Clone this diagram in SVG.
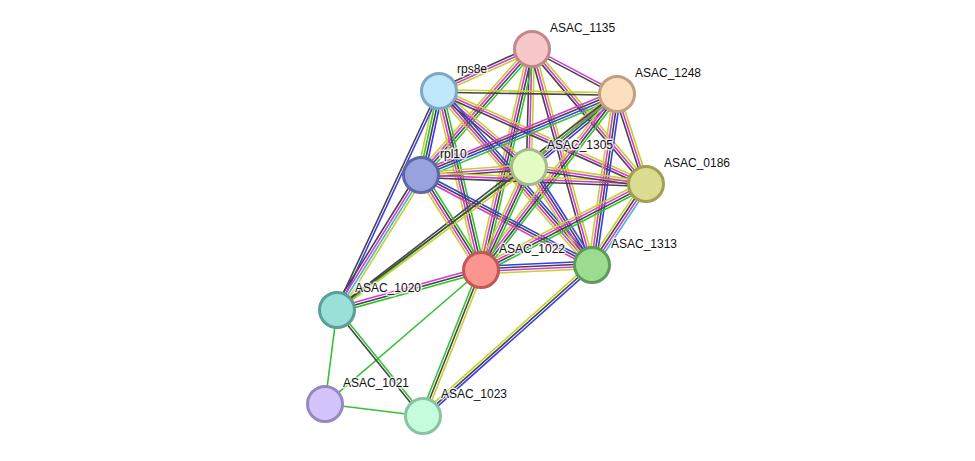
<svg xmlns="http://www.w3.org/2000/svg" width="975" height="461" viewBox="0 0 975 461">
<style>
line{stroke-width:1.6;fill:none;stroke-linecap:butt}
.t{stroke:#c5d12a}.k{stroke:#454545}.e{stroke:#d838d8}.n{stroke:#36c236}.c{stroke:#3a3af2}.d{stroke:#3cb4d4}
circle{stroke-width:3}
text{font-family:"Liberation Sans",Arial,sans-serif;font-size:12px;fill:#111;stroke:#fff;stroke-width:3;stroke-opacity:0.75;paint-order:stroke;stroke-linejoin:round}
</style>
<defs>
<g id="TEK"><line class="t" x2="1" y1="-2.5" y2="-2.5"/><line class="e" x2="1"/><line class="k" x2="1" y1="2.5" y2="2.5"/></g>
<g id="EK"><line class="e" x2="1" y1="-1.25" y2="-1.25"/><line class="k" x2="1" y1="1.25" y2="1.25"/></g>
<g id="TK"><line class="t" x2="1" y1="-1.25" y2="-1.25"/><line class="k" x2="1" y1="1.25" y2="1.25"/></g>
<g id="CK"><line class="c" x2="1" y1="-1.25" y2="-1.25"/><line class="k" x2="1" y1="1.25" y2="1.25"/></g>
<g id="NK"><line class="n" x2="1" y1="-1.25" y2="-1.25"/><line class="k" x2="1" y1="1.25" y2="1.25"/></g>
<g id="NTEK"><line class="n" x2="1" y1="-3.75" y2="-3.75"/><line class="k" x2="1" y1="-1.25" y2="-1.25"/><line class="e" x2="1" y1="1.25" y2="1.25"/><line class="t" x2="1" y1="3.75" y2="3.75"/></g>
<g id="CKNT"><line class="c" x2="1" y1="-3.75" y2="-3.75"/><line class="k" x2="1" y1="-1.25" y2="-1.25"/><line class="n" x2="1" y1="1.25" y2="1.25"/><line class="t" x2="1" y1="3.75" y2="3.75"/></g>
<g id="CKET"><line class="c" x2="1" y1="-3.75" y2="-3.75"/><line class="k" x2="1" y1="-1.25" y2="-1.25"/><line class="e" x2="1" y1="1.25" y2="1.25"/><line class="t" x2="1" y1="3.75" y2="3.75"/></g>
<g id="NCKE"><line class="n" x2="1" y1="-3.75" y2="-3.75"/><line class="c" x2="1" y1="-1.25" y2="-1.25"/><line class="k" x2="1" y1="1.25" y2="1.25"/><line class="e" x2="1" y1="3.75" y2="3.75"/></g>
<g id="CKE"><line class="c" x2="1" y1="-2.5" y2="-2.5"/><line class="k" x2="1"/><line class="e" x2="1" y1="2.5" y2="2.5"/></g>
<g id="TDEK"><line class="t" x2="1" y1="-3.75" y2="-3.75"/><line class="d" x2="1" y1="-1.25" y2="-1.25"/><line class="e" x2="1" y1="1.25" y2="1.25"/><line class="k" x2="1" y1="3.75" y2="3.75"/></g>
<g id="DEKT"><line class="d" x2="1" y1="-3.75" y2="-3.75"/><line class="e" x2="1" y1="-1.25" y2="-1.25"/><line class="k" x2="1" y1="1.25" y2="1.25"/><line class="t" x2="1" y1="3.75" y2="3.75"/></g>
<g id="NKE"><line class="n" x2="1" y1="-2.5" y2="-2.5"/><line class="k" x2="1"/><line class="e" x2="1" y1="2.5" y2="2.5"/></g>
<g id="TKN"><line class="t" x2="1" y1="-2.5" y2="-2.5"/><line class="k" x2="1"/><line class="n" x2="1" y1="2.5" y2="2.5"/></g>
<g id="CKT"><line class="c" x2="1" y1="-2.5" y2="-2.5"/><line class="k" x2="1"/><line class="t" x2="1" y1="2.5" y2="2.5"/></g>
<g id="N"><line class="n" x2="1"/></g>
</defs>
<rect width="975" height="461" fill="#fff"/>
<g id="connectors">
<use href="#TEK" transform="translate(532 49) rotate(155.7) scale(102 1)"/>
<use href="#EK" transform="translate(532 49) rotate(27.9) scale(96.2 1)"/>
<use href="#NTEK" transform="translate(532 49) rotate(131.4) scale(167.9 1)"/>
<use href="#TEK" transform="translate(532 49) rotate(91.5) scale(118 1)"/>
<use href="#TEK" transform="translate(532 49) rotate(49.8) scale(176.7 1)"/>
<use href="#NTEK" transform="translate(532 49) rotate(103) scale(226.8 1)"/>
<use href="#TEK" transform="translate(532 49) rotate(74.5) scale(224.2 1)"/>
<use href="#TK" transform="translate(439 91) rotate(0.97) scale(178 1)"/>
<use href="#CKNT" transform="translate(439 91) rotate(102.1) scale(85.9 1)"/>
<use href="#TEK" transform="translate(439 91) rotate(40.2) scale(117.8 1)"/>
<use href="#TEK" transform="translate(439 91) rotate(24.2) scale(226.9 1)"/>
<use href="#NTEK" transform="translate(439 91) rotate(76.8) scale(183.9 1)"/>
<use href="#CKET" transform="translate(439 91) rotate(48.7) scale(231.7 1)"/>
<use href="#CK" transform="translate(439 91) rotate(115) scale(241.6 1)"/>
<use href="#NCKE" transform="translate(617 94) rotate(157.5) scale(212.1 1)"/>
<use href="#CKET" transform="translate(617 94) rotate(140.3) scale(114.3 1)"/>
<use href="#TEK" transform="translate(617 94) rotate(72.1) scale(94.6 1)"/>
<use href="#NTEK" transform="translate(617 94) rotate(127.7) scale(222.4 1)"/>
<use href="#CKET" transform="translate(617 94) rotate(98.3) scale(172.8 1)"/>
<use href="#NK" transform="translate(617 94) rotate(142.4) scale(353.6 1)"/>
<use href="#TEK" transform="translate(421 175) rotate(-4.2) scale(108.3 1)"/>
<use href="#TEK" transform="translate(421 175) rotate(2.3) scale(225.2 1)"/>
<use href="#NTEK" transform="translate(421 175) rotate(57.7) scale(112.4 1)"/>
<use href="#CKE" transform="translate(421 175) rotate(27.8) scale(193.2 1)"/>
<use href="#TDEK" transform="translate(421 175) rotate(121.9) scale(159 1)"/>
<use href="#TEK" transform="translate(529 167) rotate(8.3) scale(118.2 1)"/>
<use href="#NTEK" transform="translate(529 167) rotate(115) scale(113.6 1)"/>
<use href="#CKET" transform="translate(529 167) rotate(57.3) scale(116.5 1)"/>
<use href="#TK" transform="translate(529 167) rotate(143.3) scale(239.4 1)"/>
<use href="#NTEK" transform="translate(646 184) rotate(152.5) scale(186.1 1)"/>
<use href="#DEKT" transform="translate(646 184) rotate(123.7) scale(97.4 1)"/>
<use href="#CKET" transform="translate(481 270) rotate(-2.6) scale(111.1 1)"/>
<use href="#NKE" transform="translate(481 270) rotate(164.5) scale(149.5 1)"/>
<use href="#N" transform="translate(481 270) rotate(139.3) scale(205.6 1)"/>
<use href="#TKN" transform="translate(481 270) rotate(111.7) scale(157.1 1)"/>
<use href="#CKT" transform="translate(592 265) rotate(138.2) scale(226.6 1)"/>
<use href="#N" transform="translate(337 310) rotate(97.3) scale(94.8 1)"/>
<use href="#NK" transform="translate(337 310) rotate(51) scale(136.5 1)"/>
<use href="#N" transform="translate(325 404) rotate(7) scale(98.7 1)"/>
</g>
<g id="node-ASAC_1135"><circle cx="532" cy="49" r="17.5" fill="#f7c8c8" stroke="#c08a8a"/><text x="550" y="32">ASAC_1135</text></g>
<g id="node-rps8e"><circle cx="439" cy="91" r="17.5" fill="#c0e8fc" stroke="#7fa8c4"/><text x="457" y="73">rps8e</text></g>
<g id="node-ASAC_1248"><circle cx="617" cy="94" r="17.5" fill="#fddfc0" stroke="#c0a080"/><text x="635" y="77">ASAC_1248</text></g>
<g id="node-rpl10"><circle cx="421" cy="175" r="17.5" fill="#98a2dc" stroke="#5c68a6"/><text x="440" y="158">rpl10</text></g>
<g id="node-ASAC_1305"><circle cx="529" cy="167" r="17.5" fill="#e2fcc4" stroke="#a4bc88"/><text x="547" y="149">ASAC_1305</text></g>
<g id="node-ASAC_0186"><circle cx="646" cy="184" r="17.5" fill="#dcdc90" stroke="#a0a050"/><text x="664" y="167">ASAC_0186</text></g>
<g id="node-ASAC_1022"><circle cx="481" cy="270" r="17.5" fill="#fc9490" stroke="#c05858"/><text x="499" y="253">ASAC_1022</text></g>
<g id="node-ASAC_1313"><circle cx="592" cy="265" r="17.5" fill="#9cdc90" stroke="#5c9c58"/><text x="611" y="248">ASAC_1313</text></g>
<g id="node-ASAC_1020"><circle cx="337" cy="310" r="17.5" fill="#98e0d8" stroke="#5c9e98"/><text x="355" y="292">ASAC_1020</text></g>
<g id="node-ASAC_1021"><circle cx="325" cy="404" r="17.5" fill="#d4c4fc" stroke="#9888c0"/><text x="343" y="387">ASAC_1021</text></g>
<g id="node-ASAC_1023"><circle cx="423" cy="416" r="17.5" fill="#c4fcdc" stroke="#88c4a0"/><text x="441" y="398">ASAC_1023</text></g>
</svg>
